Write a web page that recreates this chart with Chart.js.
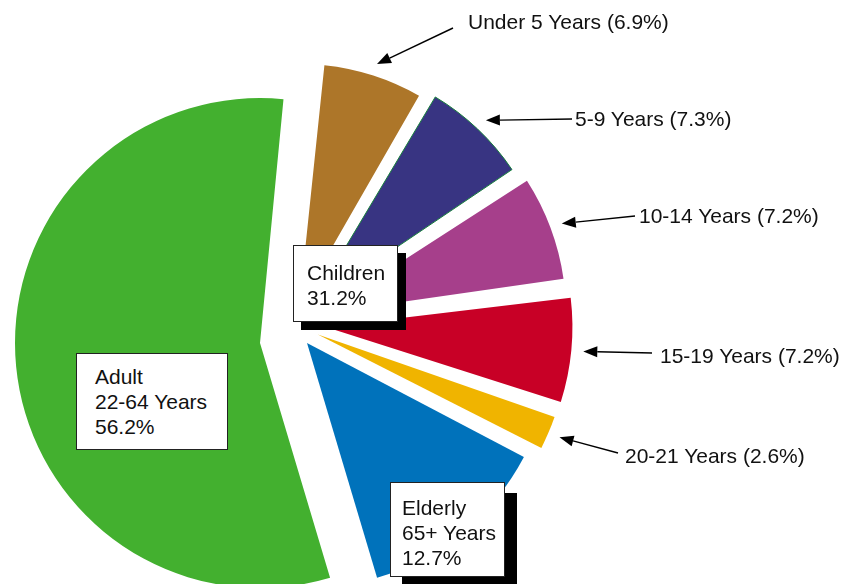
<!DOCTYPE html>
<html>
<head>
<meta charset="utf-8">
<script src="https://cdn.jsdelivr.net/npm/chart.js@4.4.1/dist/chart.umd.min.js"></script>
<style>
  html, body { margin: 0; padding: 0; background: #fff; }
  #wrap { position: relative; width: 842px; height: 584px; overflow: hidden;
          font-family: "Liberation Sans", Arial, sans-serif; color: #111; }
  #wrap canvas { position: absolute; left: 0; top: 0; }
  .callout { position: absolute; font-size: 21px; line-height: 25px; white-space: nowrap; transform: translateY(-50%); }
  .box { position: absolute; box-sizing: border-box; background: #fff; border: 1px solid #222;
         font-size: 21px; line-height: 25px; white-space: nowrap; }
</style>
</head>
<body>
<div id="wrap">
  <canvas id="layer-Adult" width="842" height="584"></canvas>
  <canvas id="layer-Elderly" width="842" height="584"></canvas>
  <canvas id="layer-Children" width="842" height="584"></canvas>
</div>
<script>
// share of population by age band (%)
const ageBands = ['Under 5 Years', '5-9 Years', '10-14 Years', '15-19 Years', '20-21 Years', '65+ Years', '22-64 Years'];
const sharePct = [6.9, 7.3, 7.2, 7.2, 2.6, 12.7, 56.2];
const bandGroup = ['Children', 'Children', 'Children', 'Children', 'Children', 'Elderly', 'Adult'];
const groupNames = ['Adult', 'Elderly', 'Children'];

const sliceColors = ['#ad7629', '#383482', '#a63f8b', '#c80026', '#f0b400', '#0072bb', '#43b02f'];
const sliceBorder = ['#ad7629', '#17803d', '#a63f8b', '#c80026', '#f0b400', '#0072bb', '#43b02f'];
const sliceBorderWidth = [0, 1, 0, 0, 0, 0, 0];
// how far each children slice is pulled out of its group
const childOffset = [84, 104, 120, 132, 108, 0, 0];

const W = 842, H = 584;
const ROTATION = 5.5;

// each group sits on its own layer so it can be pulled away from the others
const layerGeom = {
  Adult:    { cx: 260, cy: 343, radius: 245 },
  Elderly:  { cx: 307, cy: 343, radius: 245 },
  Children: { cx: 293, cy: 324, radius: 228 }
};

// label boxes for the three groups
const boxGeom = {
  Children: { left: 293, top: 245, width: 105, height: 77, padL: 13, padT: 14, shadow: '8px 8px 0 #000' },
  Elderly:  { left: 390, top: 482, width: 115, height: 95, padL: 11, padT: 12, shadow: '12px 11px 0 #000' },
  Adult:    { left: 76,  top: 353, width: 152, height: 97, padL: 18, padT: 10, shadow: 'none' }
};

// callouts for the children bands: text anchor and arrow tail
const calloutGeom = [
  { left: 468, cy: 21,  tail: [453, 28] },
  { left: 575, cy: 118, tail: [572, 119] },
  { left: 639, cy: 215, tail: [635, 216] },
  { left: 660, cy: 355, tail: [652, 353] },
  { left: 625, cy: 455, tail: [618, 453] }
];

const fmtPct = v => v.toFixed(1) + '%';

function padFor(cx, cy) {
  return {
    left: Math.max(0, 2 * cx - W), right: Math.max(0, W - 2 * cx),
    top: Math.max(0, 2 * cy - H), bottom: Math.max(0, H - 2 * cy)
  };
}

function drawArrow(ctx, x0, y0, x1, y1) {
  const a = Math.atan2(y1 - y0, x1 - x0);
  const len = 14, half = 5.5;
  const bx = x1 - Math.cos(a) * len, by = y1 - Math.sin(a) * len;
  ctx.strokeStyle = '#000';
  ctx.lineWidth = 1.4;
  ctx.beginPath();
  ctx.moveTo(x0, y0);
  ctx.lineTo(bx, by);
  ctx.stroke();
  ctx.fillStyle = '#000';
  ctx.beginPath();
  ctx.moveTo(x1, y1);
  ctx.lineTo(bx - Math.sin(a) * half, by + Math.cos(a) * half);
  ctx.lineTo(bx + Math.sin(a) * half, by - Math.cos(a) * half);
  ctx.closePath();
  ctx.fill();
}

// arrows from each callout to the rim of its slice
const calloutArrows = {
  id: 'calloutArrows',
  afterDatasetsDraw(chart) {
    const ctx = chart.ctx;
    const arcs = chart.getDatasetMeta(0).data;
    ctx.save();
    calloutGeom.forEach((c, i) => {
      const arc = arcs[i];
      const mid = (arc.startAngle + arc.endAngle) / 2;
      const shift = (arc.options.offset || 0) / 4;
      const fix = 1 - Math.sin(Math.min(Math.PI, arc.circumference));
      const r = shift + arc.outerRadius + shift * fix + 12;
      drawArrow(ctx, c.tail[0], c.tail[1], arc.x + Math.cos(mid) * r, arc.y + Math.sin(mid) * r);
    });
    ctx.restore();
  }
};

function buildLayer(group) {
  const g = layerGeom[group];
  const mine = sharePct.map((v, i) => bandGroup[i] === group);
  return new Chart(document.getElementById('layer-' + group), {
    type: 'pie',
    data: {
      labels: ageBands,
      datasets: [{
        data: sharePct,
        backgroundColor: sliceColors.map((c, i) => mine[i] ? c : 'rgba(0,0,0,0)'),
        borderColor: sliceBorder.map((c, i) => mine[i] ? c : 'rgba(0,0,0,0)'),
        borderWidth: sliceBorderWidth.map((w, i) => mine[i] ? w : 0),
        offset: group === 'Children' ? childOffset : 0,
        rotation: ROTATION,
        radius: g.radius,
        clip: false
      }]
    },
    options: {
      responsive: false,
      animation: false,
      events: [],
      layout: { padding: padFor(g.cx, g.cy) },
      plugins: { legend: { display: false }, tooltip: { enabled: false } }
    },
    plugins: group === 'Children' ? [calloutArrows] : []
  });
}

groupNames.forEach(buildLayer);

const wrap = document.getElementById('wrap');

// callout texts
calloutGeom.forEach((c, i) => {
  const el = document.createElement('div');
  el.className = 'callout';
  el.style.left = c.left + 'px';
  el.style.top = c.cy + 'px';
  el.textContent = ageBands[i] + ' (' + fmtPct(sharePct[i]) + ')';
  wrap.appendChild(el);
});

// group boxes
groupNames.forEach(group => {
  const b = boxGeom[group];
  const total = sharePct.reduce((s, v, i) => bandGroup[i] === group ? s + v : s, 0);
  const lines = [group];
  if (group !== 'Children') lines.push(ageBands[bandGroup.indexOf(group)]);
  lines.push(fmtPct(total));
  const el = document.createElement('div');
  el.className = 'box';
  Object.assign(el.style, {
    left: b.left + 'px', top: b.top + 'px', width: b.width + 'px', height: b.height + 'px',
    paddingLeft: b.padL + 'px', paddingTop: b.padT + 'px', boxShadow: b.shadow
  });
  lines.forEach(t => {
    const d = document.createElement('div');
    d.textContent = t;
    el.appendChild(d);
  });
  wrap.appendChild(el);
});
</script>
</body>
</html>
